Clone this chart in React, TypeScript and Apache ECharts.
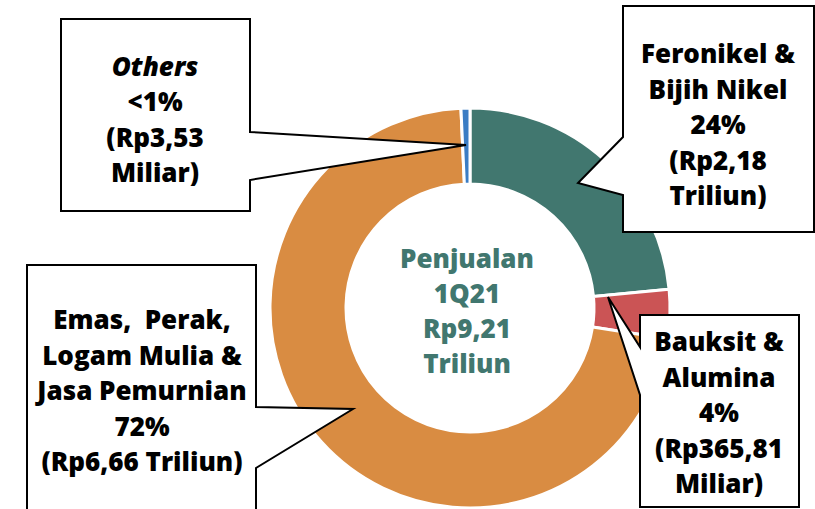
import React, { useEffect, useRef } from "react";
import * as echarts from "echarts";

const categories = [
  "Feronikel & Bijih Nikel",
  "Bauksit & Alumina",
  "Emas, Perak, Logam Mulia & Jasa Pemurnian",
  "Others",
];
// Rp triliun
const values = [2.18, 0.36581, 6.66, 0.00353];
const colors = ["#41776F", "#CB5455", "#D98C42", "#3B7DC4"];

const calloutTexts = [
  "Feronikel &\nBijih Nikel\n24%\n(Rp2,18\nTriliun)",
  "Bauksit &\nAlumina\n4%\n(Rp365,81\nMiliar)",
  "Emas,  Perak,\nLogam Mulia &\nJasa Pemurnian\n72%\n(Rp6,66 Triliun)",
  "{i|Others}\n<1%\n(Rp3,53\nMiliar)",
];
const centerText = "Penjualan\n1Q21\nRp9,21\nTriliun";

const FONT = "'Open Sans', 'Noto Sans', sans-serif";
const FS = 26;
const LH = 35.5;

export default function App() {
  const ref = useRef<HTMLDivElement>(null);
  useEffect(() => {
    if (!ref.current) return;
    const chart = echarts.init(ref.current, null, { renderer: "svg" });
    const boxStyle = { fill: "#fff", stroke: "#000", lineWidth: 2 };
    const txt = (x: number, y: number, text: string, extra: any = {}) => ({
      type: "text",
      x,
      y,
      z: 20,
      style: {
        text,
        x: 0,
        y: 0,
        align: "center",
        verticalAlign: "middle",
        fontFamily: FONT,
        fontWeight: 800,
        fontSize: FS,
        lineHeight: LH,
        fill: "#000",
        letterSpacing: -0.6,
        ...extra,
      },
    });
    chart.setOption({
      animation: false,
      series: [
        {
          type: "pie",
          center: [470, 308],
          radius: [124, 200],
          startAngle: 90,
          clockwise: true,
          minAngle: 2.6,
          avoidLabelOverlap: false,
          label: { show: false },
          labelLine: { show: false },
          itemStyle: { borderColor: "#fff", borderWidth: 3 },
          data: categories.map((c, i) => ({
            name: c,
            value: values[i],
            itemStyle: { color: colors[i] },
          })),
        },
      ],
      graphic: [
        {
          type: "polygon",
          z: 10,
          shape: {
            points: [
              [61, 19], [250, 19], [250, 132], [466, 145], [250, 180], [250, 211], [61, 211],
            ],
          },
          style: boxStyle,
        },
        {
          type: "polygon",
          z: 10,
          shape: {
            points: [
              [623, 6], [814, 6], [814, 232], [623, 232], [623, 195], [578, 183], [623, 137],
            ],
          },
          style: boxStyle,
        },
        {
          type: "polygon",
          z: 10,
          shape: {
            points: [
              [27, 265], [256, 265], [256, 407], [353, 409], [256, 468], [256, 530], [27, 530],
            ],
          },
          style: boxStyle,
        },
        {
          type: "polygon",
          z: 10,
          shape: {
            points: [
              [640, 315], [799, 315], [799, 507], [640, 507], [640, 395], [608, 297], [640, 347],
            ],
          },
          style: boxStyle,
        },
        txt(718, 124, calloutTexts[0]),
        txt(719, 412, calloutTexts[1]),
        txt(142, 390, calloutTexts[2]),
        txt(155, 119, calloutTexts[3], {
          rich: {
            i: {
              fontStyle: "italic",
              fontWeight: 800,
              fontFamily: FONT,
              fontSize: FS,
              lineHeight: LH,
              fill: "#000",
            },
          },
        }),
        txt(467, 310, centerText, { fill: "#41776F", lineHeight: 35 }),
      ],
    });
    return () => chart.dispose();
  }, []);
  return (
    <div
      ref={ref}
      style={{ position: "fixed", left: 0, top: 0, width: 815, height: 509, background: "#fff" }}
    />
  );
}
